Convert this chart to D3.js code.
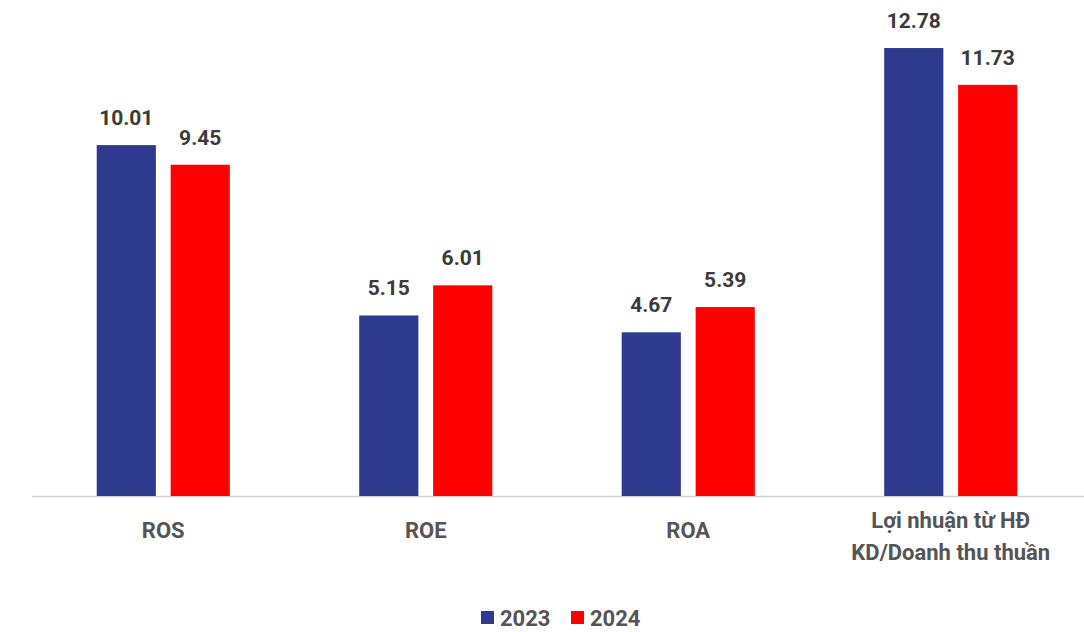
<!DOCTYPE html>
<html>
<head>
<meta charset="utf-8">
<script src="https://cdn.jsdelivr.net/npm/d3@7"></script>
<style>
  body { margin: 0; background: #fff; }
  text { font-family: Roboto, "Noto Sans", sans-serif; font-weight: 700; }
</style>
</head>
<body>
<script>
let categories = ["ROS", "ROE", "ROA", "Lợi nhuận từ HĐ\nKD/Doanh thu thuần"];
let years = ["2023", "2024"];
let values2023 = [10.01, 5.15, 4.67, 12.78];
let values2024 = [9.45, 6.01, 5.39, 11.73];

let width = 1084;
let height = 632;
let baseY = 496;
let colors = {"2023": "#2e3a8e", "2024": "#fe0000"};

let data = categories.map((c, i) => ({cat: c, vals: [
  {year: "2023", v: values2023[i]},
  {year: "2024", v: values2024[i]}
]}));

// group scale
let x0 = d3.scaleBand()
           .domain(categories)
           .range([32, 1082])
           .paddingInner(0.493)
           .paddingOuter(0.2465);

let x1 = d3.scaleBand()
           .domain(years)
           .range([0, x0.bandwidth()])
           .paddingInner(0.2);

let y = d3.scaleLinear()
          .domain([0, 14.15])
          .range([baseY, 0]);

let svg = d3.select("body")
            .append("svg")
            .attr("width", width)
            .attr("height", height);

// baseline
svg.append("line")
   .attr("x1", 32)
   .attr("x2", width)
   .attr("y1", baseY + 0.5)
   .attr("y2", baseY + 0.5)
   .attr("stroke", "#d4d4d4")
   .attr("stroke-width", 1.5);

let groups = svg.selectAll(".grp")
                .data(data)
                .enter().append("g")
                .attr("class", "grp")
                .attr("transform", d => `translate(${x0(d.cat)},0)`);

groups.selectAll("rect")
      .data(d => d.vals)
      .enter().append("rect")
      .attr("x", d => x1(d.year))
      .attr("width", x1.bandwidth())
      .attr("y", d => y(d.v))
      .attr("height", d => baseY - y(d.v))
      .attr("fill", d => colors[d.year]);

groups.selectAll(".val")
      .data(d => d.vals)
      .enter().append("text")
      .attr("class", "val")
      .attr("x", d => x1(d.year) + x1.bandwidth() / 2)
      .attr("y", d => y(d.v) - 20)
      .attr("text-anchor", "middle")
      .attr("font-size", 21)
      .attr("fill", "#3b3b3b")
      .text(d => d.v.toFixed(2));

// category labels
groups.append("text")
      .attr("text-anchor", "middle")
      .attr("font-size", 22)
      .attr("fill", "#555")
      .each(function(d) {
        let lines = d.cat.split("\n");
        let t = d3.select(this);
        let start = lines.length > 1 ? 528 : 538;
        lines.forEach((l, i) => {
          t.append("tspan")
           .attr("x", x0.bandwidth() / 2)
           .attr("y", start + i * 32)
           .text(l);
        });
      });

// legend
let legend = svg.append("g");
let legX = [481, 571];
years.forEach((yr, i) => {
  legend.append("rect")
        .attr("x", legX[i])
        .attr("y", 611)
        .attr("width", 13)
        .attr("height", 13)
        .attr("fill", colors[yr]);
  legend.append("text")
        .attr("x", legX[i] + 19)
        .attr("y", 626)
        .attr("font-size", 22)
        .attr("fill", "#555")
        .text(yr);
});
</script>
</body>
</html>
